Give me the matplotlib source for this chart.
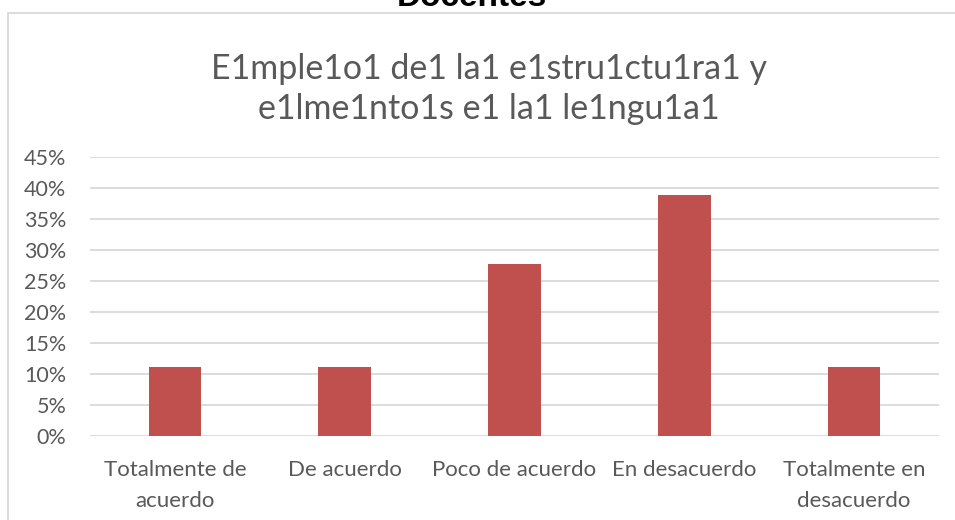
import matplotlib.pyplot as plt
from matplotlib.patches import Rectangle
from matplotlib.ticker import PercentFormatter, MultipleLocator

categorias = ["Totalmente de\nacuerdo", "De acuerdo", "Poco de acuerdo",
              "En desacuerdo", "Totalmente en\ndesacuerdo"]
valores = [1 / 9, 1 / 9, 5 / 18, 7 / 18, 1 / 9]

suptitulo = "Docentes"
titulo = "E1mple1o1 de1 la1 e1stru1ctu1ra1 y\ne1lme1nto1s e1 la1 le1ngu1a1"

GRIS = "#595959"
FUENTE = ["Lato", "DejaVu Sans"]

fig = plt.figure(figsize=(9.55, 5.2), dpi=100)
ax = fig.add_axes([90 / 955, 1 - 436 / 520, (939 - 90) / 955, (436 - 157) / 520])

x = range(len(categorias))
ax.bar(x, valores, width=0.31, color="#C0504D", zorder=3)

ax.set_ylim(0, 0.45)
ax.set_xlim(-0.5, len(categorias) - 0.5)
ax.yaxis.set_major_locator(MultipleLocator(0.05))
ax.yaxis.set_major_formatter(PercentFormatter(1.0, decimals=0))
ax.grid(axis="y", color="#D9D9D9", linewidth=1.3, zorder=0)
for s in ax.spines.values():
    s.set_visible(False)
ax.tick_params(length=0)
ax.tick_params(axis="y", labelsize=15.5, labelcolor=GRIS, pad=17)
ax.tick_params(axis="x", labelsize=16, labelcolor=GRIS, pad=17)
ax.set_xticks(list(x))
ax.set_xticklabels(categorias, linespacing=1.7)
for lbl in ax.get_xticklabels() + ax.get_yticklabels():
    lbl.set_family(FUENTE)

# marco del gráfico
fig.patches.append(Rectangle((8 / 955, -0.1), 1.2, 1 - 12.5 / 520 + 0.1,
                             transform=fig.transFigure, fill=False,
                             edgecolor="#D9D9D9", linewidth=1.3))

fig.text(472 / 955, 1 - 6 / 520, suptitulo, ha="center", va="baseline",
         fontsize=24, fontweight="bold", family="Liberation Sans", color="black")
fig.text(489 / 955, 1 - 89 / 520, titulo, ha="center", va="center",
         fontsize=24.5, color=GRIS, family=FUENTE, linespacing=1.3)

fig.savefig("out.png", dpi=100)
